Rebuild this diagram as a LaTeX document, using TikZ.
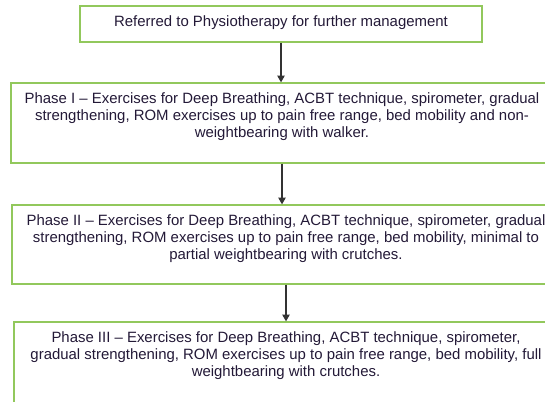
\documentclass[tikz,border=0pt]{standalone}
\usepackage{fontspec}
\setmainfont{Liberation Sans}
\usetikzlibrary{arrows.meta,positioning}
\definecolor{boxgreen}{RGB}{146,200,92}
\definecolor{textdark}{RGB}{35,25,55}
\newcommand{\boxtext}[3]{\parbox[t][#1][t]{#2}{\centering\rule{0pt}{15.5pt}#3}}

\begin{document}
\begin{tikzpicture}[x=0.75pt,y=0.75pt,every node/.style={auto},
  box/.style={draw=boxgreen,line width=1pt,inner sep=0pt,text=textdark,font=\fontsize{11.2pt}{12.75pt}\selectfont},
  link/.style={draw=black!80,line width=0.8pt,-{Triangle[length=5pt,width=5.5pt]}}]
\useasboundingbox (0,0) rectangle (545,-401);
\clip (0,0) rectangle (545,-401);
\node[box] (s0) at (281,-24) {\boxtext{27pt}{301.5pt}{Referred to Physiotherapy for further management}};
\node[box] (s1) at (282,-123) {\boxtext{60pt}{406.5pt}{Phase I – Exercises for Deep Breathing, ACBT technique, spirometer, gradual\\ strengthening, ROM exercises up to pain free range, bed mobility and non-\\ weightbearing with walker.}};
\node[box] (s2) at (286,-244.5) {\boxtext{59.25pt}{411pt}{Phase II – Exercises for Deep Breathing, ACBT technique, spirometer, gradual\\ strengthening, ROM exercises up to pain free range, bed mobility, minimal to\\ partial weightbearing with crutches.}};
\node[box] (s3) at (286,-363) {\boxtext{61.5pt}{408pt}{Phase III – Exercises for Deep Breathing, ACBT technique, spirometer,\\ gradual strengthening, ROM exercises up to pain free range, bed mobility, full\\ weightbearing with crutches.}};
\draw[link] (s0.south) -- (s0.south |- s1.north);
\draw[link] (s1.south) -- (s1.south |- s2.north);
\draw[link] (s2.south) -- (s2.south |- s3.north);
\end{tikzpicture}
\end{document}
